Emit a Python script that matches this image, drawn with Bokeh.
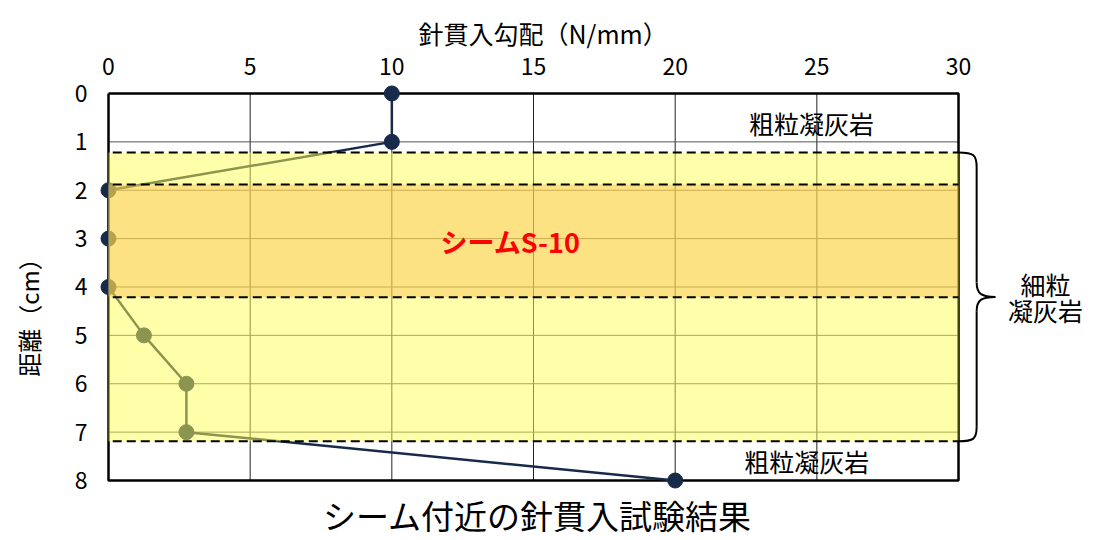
import numpy as np
from bokeh.plotting import figure
from bokeh.models import Range1d, FixedTicker
from bokeh.core.properties import value
from bokeh.embed import file_html
from bokeh.resources import INLINE

# ---- data ----
depth_cm = [0, 1, 2, 3, 4, 5, 6, 7, 8]
gradient = [10.0, 10.0, 0.0, 0.0, 0.0, 1.25, 2.75, 2.75, 20.0]
x_ticks = [0, 5, 10, 15, 20, 25, 30]
y_ticks = [0, 1, 2, 3, 4, 5, 6, 7, 8]
fine_tuff = [1.22, 7.19]      # 細粒凝灰岩 layer (depth, cm)
seam = [1.88, 4.21]           # シーム S-10 (depth, cm)
x_label = "針貫入勾配（N/mm）"
y_label = "距離（cm）"
title = "シーム付近の針貫入試験結果"

FONT = value("Noto Sans CJK JP")
NAVY = "#172A4A"

xmin, xmax = x_ticks[0], x_ticks[-1]
ymin, ymax = y_ticks[0], y_ticks[-1]

p = figure(width=1096, height=540, output_backend="svg", toolbar_location=None,
           x_range=Range1d(-0.353, 34.87), y_range=Range1d(9.24, -0.227),
           x_axis_location="above",
           min_border_left=98, min_border_top=82, min_border_right=0, min_border_bottom=0)
p.outline_line_color = None
p.grid.visible = False
p.background_fill_color = "white"

# axes
p.xaxis.ticker = FixedTicker(ticks=x_ticks)
p.yaxis.ticker = FixedTicker(ticks=y_ticks)
for ax in (p.xaxis, p.yaxis):
    ax.axis_line_color = None
    ax.major_tick_line_color = None
    ax.minor_tick_line_color = None
    ax.major_label_text_font = "Noto Sans CJK JP"
    ax.major_label_text_font_size = "23px"
    ax.major_label_text_color = "black"
    ax.axis_label_text_font = "Noto Sans CJK JP"
    ax.axis_label_text_font_style = "normal"
    ax.axis_label_text_color = "black"
p.xaxis.major_label_standoff = 2
p.yaxis.axis_label = y_label
p.yaxis.axis_label_text_font_size = "24px"
p.yaxis.major_label_standoff = 5
p.yaxis.axis_label_standoff = 26

# x-axis title, placed over the 0-30 scale (as plot title above the top axis)
p.title.text = x_label
p.title.text_font = "Noto Sans CJK JP"
p.title.text_font_size = "25px"
p.title.text_font_style = "normal"
p.title.text_color = "black"
p.title.align = "left"
p.title.offset = 320
p.title.standoff = 6
p.title.vertical_align = "middle"

# grid lines (only within plot box)
gx = [t for t in x_ticks if xmin < t < xmax]
gy = [t for t in y_ticks if ymin < t < ymax]
p.segment(x0=gx, y0=[ymin]*len(gx), x1=gx, y1=[ymax]*len(gx), line_color="#222222", line_width=1)
p.segment(x0=[xmin]*len(gy), y0=gy, x1=[xmax]*len(gy), y1=gy, line_color="#555555", line_width=1)

# frame box
p.line(x=[xmin, xmax, xmax, xmin, xmin], y=[ymin, ymin, ymax, ymax, ymin],
       line_color="black", line_width=2.5)

# data
p.line(x=gradient, y=depth_cm, line_color=NAVY, line_width=2.5)
p.scatter(x=gradient, y=depth_cm, size=15, fill_color=NAVY, line_color=NAVY)

# layer bands (semi-transparent overlays)
p.quad(left=[xmin], right=[xmax], top=[fine_tuff[0]], bottom=[fine_tuff[1]],
       fill_color="#FFFF55", fill_alpha=0.5, line_color=None)
p.quad(left=[xmin], right=[xmax], top=[seam[0]], bottom=[seam[1]],
       fill_color="#F7B646", fill_alpha=0.4, line_color=None)

# dashed boundaries
bounds = [fine_tuff[0], seam[0], seam[1], fine_tuff[1]]
p.segment(x0=[0.15]*4, y0=bounds, x1=[xmax]*4, y1=bounds,
          line_color="black", line_width=2, line_dash="9 5")

# brace
top, bot = fine_tuff
mid = (top + bot) / 2
xv, xt = 30.64, 31.3
r = 0.3
p.bezier(x0=[xmax, xv, xv, xv], y0=[top, mid - r, mid + r, bot - r],
         x1=[xv, xt, xt, xmax], y1=[top + r, mid, mid, bot],
         cx0=[xv - 0.1, xv, xv, xv], cy0=[top, mid - 0.05, mid + 0.05, bot - 0.05],
         cx1=[xv, xv + 0.2, xv + 0.2, xv - 0.1], cy1=[top + 0.05, mid, mid, bot],
         line_color="black", line_width=2)
p.segment(x0=[xv, xv], y0=[top + r, mid + r], x1=[xv, xv], y1=[mid - r, bot - r],
          line_color="black", line_width=2)

# labels
p.text(x=[24.81, 24.64], y=[0.62, 7.60], text=["粗粒凝灰岩", "粗粒凝灰岩"],
       text_font=FONT, text_font_size="25px", text_color="black",
       text_align="center", text_baseline="middle")
p.text(x=[33.07, 33.07], y=[3.93, 4.47], text=["細粒", "凝灰岩"],
       text_font=FONT, text_font_size="25px", text_color="black",
       text_align="center", text_baseline="middle")
p.text(x=[14.19], y=[3.06], text=["シームS-10"],
       text_font=FONT, text_font_size="27px", text_font_style="bold", text_color="#FF0000",
       text_align="center", text_baseline="middle")
p.text(x=[15.14], y=[8.71], text=[title],
       text_font=FONT, text_font_size="33px", text_color="black",
       text_align="center", text_baseline="middle")

open("out.html", "w").write(file_html(p, INLINE))
